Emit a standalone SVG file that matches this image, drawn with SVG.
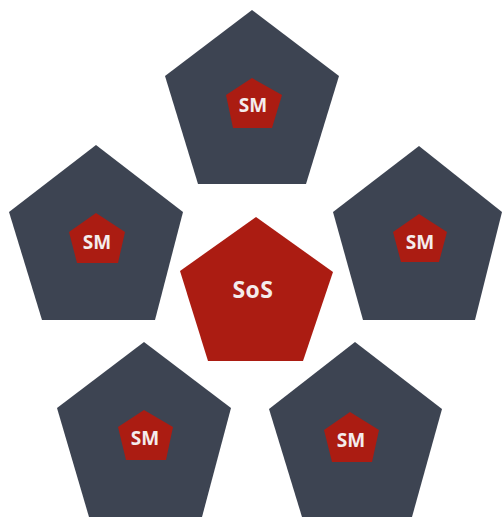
<svg xmlns="http://www.w3.org/2000/svg" width="502" height="518" viewBox="0 0 502 518">
<style>
.outer{fill:#3d4452}
.red{fill:#ab1c12}
.lbl{font-family:"Open Sans","Liberation Sans",sans-serif;font-weight:700;fill:#f4ecec;text-anchor:middle}
.sm{font-size:19px}
.sos{font-size:23px;letter-spacing:0.5px}
</style>
<rect width="502" height="518" fill="#ffffff"/>
<g id="connectors"/>
<g id="sm-top">
<polygon class="outer" points="252,10 339,76 306,184 198,184 165,76"/>
<polygon class="red" points="252,78 282,95 272,128 233,128 226,95"/>
<text class="lbl sm" x="253" y="112">SM</text>
</g>
<g id="sm-left">
<polygon class="outer" points="96,145 183,212 155,320 42,320 9,212"/>
<polygon class="red" points="96,213 125,232 118,263 77,263 69,232"/>
<text class="lbl sm" x="97" y="249">SM</text>
</g>
<g id="sm-right">
<polygon class="outer" points="419,146 502,212 475,320 363,320 333,212"/>
<polygon class="red" points="419,214 447,232 439,262 401,262 393,232"/>
<text class="lbl sm" x="420" y="249">SM</text>
</g>
<g id="sos">
<polygon class="red" points="256,217 333,272 303,361 208,361 180,271"/>
<text class="lbl sos" x="253" y="298">SoS</text>
</g>
<g id="sm-bottom-left">
<polygon class="outer" points="144,342 231,408 202,517 89,517 57,408"/>
<polygon class="red" points="144,410 173,427 166,460 126,460 118,427"/>
<text class="lbl sm" x="145" y="445">SM</text>
</g>
<g id="sm-bottom-right">
<polygon class="outer" points="355,342 442,409 412,517 302,517 269,409"/>
<polygon class="red" points="350,412 379,430 372,462 332,462 324,430"/>
<text class="lbl sm" x="351" y="447">SM</text>
</g>
</svg>
